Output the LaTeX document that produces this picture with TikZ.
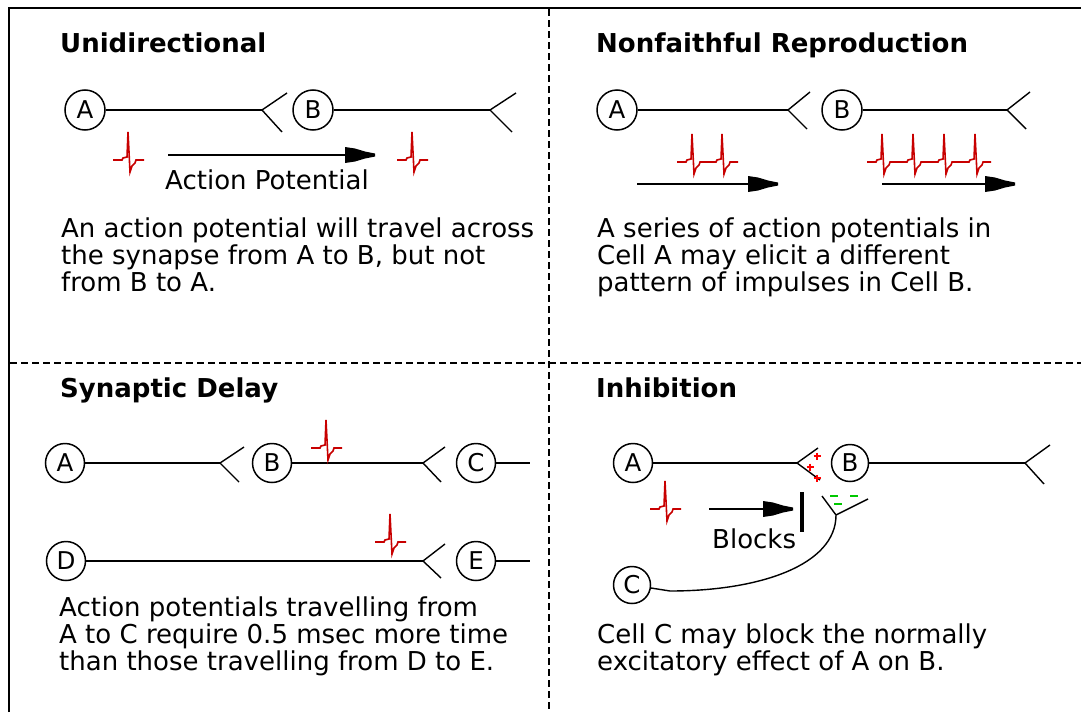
\documentclass[tikz,border=0pt]{standalone}
\usepackage{fontspec}
\setmainfont{DejaVu Sans}
\usetikzlibrary{arrows.meta}

\definecolor{spikered}{RGB}{200,0,0}
\definecolor{plusred}{RGB}{255,0,0}
\definecolor{minusgreen}{RGB}{0,200,0}

\pgfdeclarearrow{
  name = APtip,
  setup code = {
    \pgfarrowssettipend{0pt}
    \pgfarrowssetlineend{-14pt}
    \pgfarrowssetvisualbackend{-30pt}
    \pgfarrowssetbackend{-30pt}
    \pgfarrowshullpoint{0pt}{0pt}
    \pgfarrowshullpoint{-30pt}{8pt}
    \pgfarrowshullpoint{-30pt}{-8pt}
  },
  drawing code = {
    \pgfpathmoveto{\pgfpoint{0pt}{1.5pt}}
    \pgfpathlineto{\pgfpoint{-10pt}{3.5pt}}
    \pgfpathlineto{\pgfpoint{-20pt}{6.5pt}}
    \pgfpathlineto{\pgfpoint{-30pt}{8pt}}
    \pgfpathlineto{\pgfpoint{-30pt}{-8pt}}
    \pgfpathlineto{\pgfpoint{-20pt}{-6.5pt}}
    \pgfpathlineto{\pgfpoint{-10pt}{-3.5pt}}
    \pgfpathlineto{\pgfpoint{0pt}{-1.5pt}}
    \pgfpathclose
    \pgfusepathqfill
  }
}

\tikzset{
  cell/.style={circle, draw, line width=1.5pt, minimum size=40pt, inner sep=0pt,
    font=\fontsize{24.5}{24.5}\selectfont},
  axon/.style={line width=2pt},
  branch/.style={line width=1.4pt},
  apline/.style={line width=2pt, -{APtip}},
  spk/.style={draw=spikered, line width=1.6pt, line join=miter},
  txt/.style={anchor=base west, inner sep=0pt, font=\fontsize{26}{27.5}\selectfont},
  ttl/.style={anchor=base west, inner sep=0pt, font=\bfseries\fontsize{26}{28}\selectfont},
  outerline/.style={line width=2.2pt},
  divline/.style={line width=2pt, dash pattern=on 7pt off 4pt},
  spike/.pic={\draw[spk] (0,0) -- (9,0) -- (10,-2) -- (14,-3) -- (15,-28) -- (17,12)
     -- (19,6) -- (22,3) -- (23,0) -- (31,0);},
  plusmark/.pic={\draw[plusred, line width=2pt] (-3.5,0) -- (3.5,0) (0,-3.5) -- (0,3.5);},
  minusmark/.pic={\draw[minusgreen, line width=2pt] (-4,0) -- (4,0);},
}

\begin{document}
\begin{tikzpicture}[x=1pt, y=-1pt]
\useasboundingbox (0,0) rectangle (1081,712);
\fill[white] (0,0) rectangle (1081,712);

% frame
\coordinate (fr0) at (9,712);
\coordinate (fr1) at (9,8);
\coordinate (fr2) at (1081,8);
\draw[outerline] (fr0) -- (fr1) -- (fr2);
\coordinate (dv0) at (549,9);
\coordinate (dv1) at (549,712);
\draw[divline] (dv0) -- (dv1);
\coordinate (dh0) at (10,363);
\coordinate (dh1) at (1081,363);
\draw[divline] (dh0) -- (dh1);

% ---------------- Unidirectional ----------------
\node[ttl] (ttl1) at (60,52) {Unidirectional};
\node[cell] (A1) at (85,110) {A};
\coordinate (f1) at (262,110);
\coordinate (f1u) at (287,93);
\coordinate (f1d) at (282,132);
\draw[axon] (A1) -- (f1);
\draw[branch] (f1) -- (f1u);
\draw[branch] (f1) -- (f1d);
\node[cell] (B1) at (313,110) {B};
\coordinate (g1) at (490,110);
\coordinate (g1u) at (516,93);
\coordinate (g1d) at (512,132);
\draw[axon] (B1) -- (g1);
\draw[branch] (g1) -- (g1u);
\draw[branch] (g1) -- (g1d);
\pic at (113,160) {spike};
\pic at (397,160) {spike};
\coordinate (ar1s) at (168,155);
\coordinate (ar1e) at (375,155);
\draw[apline] (ar1s) -- (ar1e);
\node[txt] (lab1) at (165,189) {Action Potential};
\node[txt] (p1a) at (61,237) {An action potential will travel across};
\node[txt] (p1b) at (61,264) {the synapse from A to B, but not};
\node[txt] (p1c) at (61,291) {from B to A.};

% ---------------- Nonfaithful Reproduction ----------------
\node[ttl] (ttl2) at (596,52) {Nonfaithful Reproduction};
\node[cell] (A2) at (617,110) {A};
\coordinate (f2) at (788,110);
\coordinate (f2u) at (810,92);
\coordinate (f2d) at (807,129);
\draw[axon] (A2) -- (f2);
\draw[branch] (f2) -- (f2u);
\draw[branch] (f2) -- (f2d);
\node[cell] (B2) at (842,110) {B};
\coordinate (g2) at (1007,110);
\coordinate (g2u) at (1030,92);
\coordinate (g2d) at (1026,129);
\draw[axon] (B2) -- (g2);
\draw[branch] (g2) -- (g2u);
\draw[branch] (g2) -- (g2d);
\pic at (677,162) {spike};
\pic at (707,162) {spike};
\pic at (867,162) {spike};
\pic at (898,162) {spike};
\pic at (929,162) {spike};
\pic at (960,162) {spike};
\coordinate (ar2s) at (637,184);
\coordinate (ar2e) at (778,184);
\draw[apline] (ar2s) -- (ar2e);
\coordinate (ar3s) at (882,184);
\coordinate (ar3e) at (1015,184);
\draw[apline] (ar3s) -- (ar3e);
\node[txt] (p2a) at (597,237) {A series of action potentials in};
\node[txt] (p2b) at (597,264) {Cell A may elicit a different};
\node[txt] (p2c) at (597,291) {pattern of impulses in Cell B.};

% ---------------- Synaptic Delay ----------------
\node[ttl] (ttl3) at (60,397) {Synaptic Delay};
\node[cell, minimum size=39pt] (A3) at (65,463) {A};
\coordinate (f3) at (220,463);
\coordinate (f3u) at (244,447);
\coordinate (f3d) at (239,482);
\draw[axon] (A3) -- (f3);
\draw[branch] (f3) -- (f3u);
\draw[branch] (f3) -- (f3d);
\node[cell, minimum size=39pt] (B3) at (272,463) {B};
\coordinate (g3) at (423,463);
\coordinate (g3u) at (445,447);
\coordinate (g3d) at (441,482);
\draw[axon] (B3) -- (g3);
\draw[branch] (g3) -- (g3u);
\draw[branch] (g3) -- (g3d);
\node[cell, minimum size=39pt] (C3) at (476,463) {C};
\coordinate (h3) at (530,463);
\draw[axon] (C3) -- (h3);
\pic at (311,448) {spike};
\node[cell, minimum size=39pt] (D3) at (66,561) {D};
\coordinate (f4) at (423,561);
\coordinate (f4u) at (445,544);
\coordinate (f4d) at (441,578);
\draw[axon] (D3) -- (f4);
\draw[branch] (f4) -- (f4u);
\draw[branch] (f4) -- (f4d);
\node[cell, minimum size=39pt] (E3) at (476,561) {E};
\coordinate (h4) at (530,561);
\draw[axon] (E3) -- (h4);
\pic at (375,542) {spike};
\node[txt] (p3a) at (59,616) {Action potentials travelling from};
\node[txt] (p3b) at (59,643) {A to C require 0.5 msec more time};
\node[txt] (p3c) at (59,670) {than those travelling from D to E.};

% ---------------- Inhibition ----------------
\node[ttl] (ttl4) at (596,397) {Inhibition};
\node[cell, minimum size=39pt] (A4) at (633,463) {A};
\coordinate (f5) at (797,463);
\coordinate (f5u) at (818,448);
\coordinate (f5d) at (820,480);
\draw[axon] (A4) -- (f5);
\draw[branch] (f5) -- (f5u);
\draw[branch] (f5) -- (f5d);
\pic at (817,456) {plusmark};
\pic at (810,467) {plusmark};
\pic at (817,478) {plusmark};
\node[cell, minimum size=37pt] (B4) at (850,463) {B};
\coordinate (g5) at (1025,463);
\coordinate (g5u) at (1050,445);
\coordinate (g5d) at (1044,484);
\draw[axon] (B4) -- (g5);
\draw[branch] (g5) -- (g5u);
\draw[branch] (g5) -- (g5d);
\pic at (650,509) {spike};
\coordinate (ar4s) at (709,509);
\coordinate (ar4e) at (793,509);
\draw[apline] (ar4s) -- (ar4e);
\coordinate (bar0) at (802,492);
\coordinate (bar1) at (802,532);
\draw[line width=4pt] (bar0) -- (bar1);
\node[txt] (lab4) at (712,548) {Blocks};
\node[cell, minimum size=37pt] (C4) at (632,585) {C};
\coordinate (c4a) at (670,591);
\coordinate (y4) at (836,515);
\coordinate (y4l) at (822,496);
\coordinate (y4r) at (868,499);
\draw[branch] (C4) -- (c4a) .. controls (760,591) and (836,565) .. (y4);
\draw[branch] (y4) -- (y4l);
\draw[branch] (y4) -- (y4r);
\pic at (834,496) {minusmark};
\pic at (854,496) {minusmark};
\pic at (838,504) {minusmark};
\node[txt] (p4a) at (597,643) {Cell C may block the normally};
\node[txt] (p4b) at (597,670) {excitatory effect of A on B.};
\end{tikzpicture}
\end{document}
